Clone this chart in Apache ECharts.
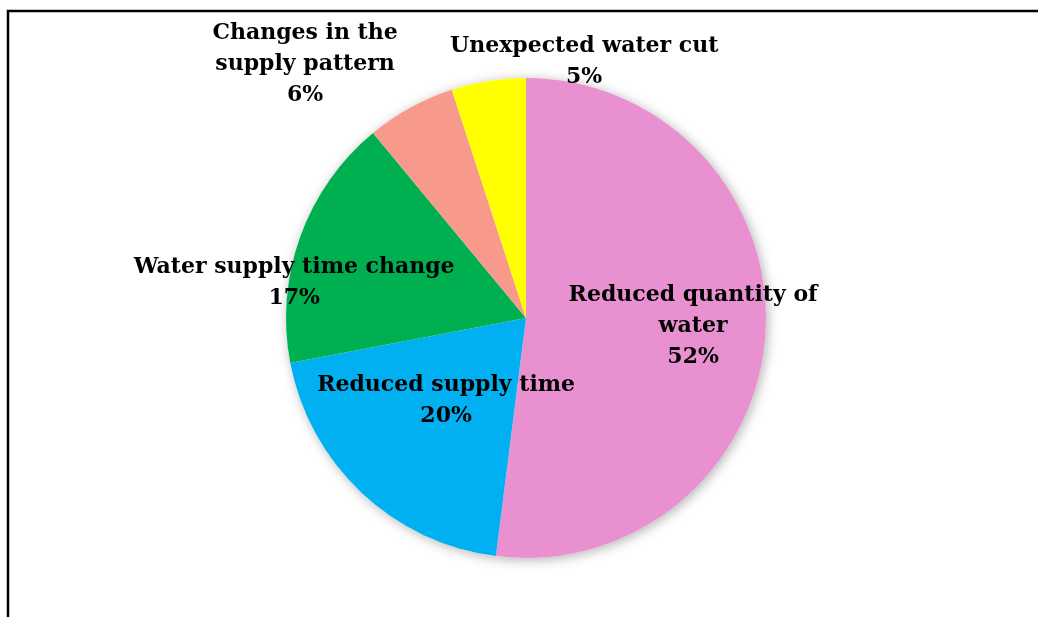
<!DOCTYPE html>
<html>
<head>
<meta charset="utf-8">
<script src="https://cdn.jsdelivr.net/npm/echarts@6/dist/echarts.min.js"></script>
<style>
  html, body { margin: 0; padding: 0; background: #fff; }
  #chart { width: 1038px; height: 617px; }
</style>
</head>
<body>
<div id="chart"></div>
<script>
// Reasons reported for water supply disruption (share of responses, %)
const categories = [
  'Reduced quantity of\nwater',
  'Reduced supply time',
  'Water supply time change',
  'Changes in the\nsupply pattern',
  'Unexpected water cut'
];
const shares = [52, 20, 17, 6, 5];
const sliceColors = ['#E991D0', '#00B0F0', '#00B050', '#F79A8B', '#FFFF00'];

// Label anchor for each slice: [angle clockwise from 12 o'clock (deg), distance / radius]
const labelAnchors = [[92.7, 0.697], [223.9, 0.48], [278.6, 0.977], [319, 1.403], [12.8, 1.094]];

const CENTER = [526, 318];
const RADIUS = 240;

const chart = echarts.init(document.getElementById('chart'), null, { renderer: 'canvas' });

chart.setOption({
  backgroundColor: '#ffffff',
  animation: false,
  graphic: [{
    type: 'rect',
    shape: { x: 8, y: 11, width: 1060, height: 640 },
    style: { fill: 'none', stroke: '#000', lineWidth: 2.5 },
    silent: true
  }],
  series: [
    {
      // soft drop shadow beneath the whole disc
      type: 'pie',
      center: CENTER,
      radius: RADIUS,
      silent: true,
      z: 1,
      label: { show: false },
      labelLine: { show: false },
      itemStyle: {
        color: '#ffffff',
        borderWidth: 0,
        shadowBlur: 12,
        shadowColor: 'rgba(0,0,0,0.30)',
        shadowOffsetX: 2,
        shadowOffsetY: 2
      },
      emphasis: { disabled: true },
      data: [{ name: '', value: 1 }]
    },
    {
      type: 'pie',
      center: CENTER,
      radius: RADIUS,
      startAngle: 90,
      clockwise: true,
      z: 2,
      avoidLabelOverlap: false,
      itemStyle: { borderWidth: 0 },
      label: {
        show: true,
        position: 'inside',
        formatter: '{b}\n{d}%',
        fontFamily: '"DejaVu Serif", "Liberation Serif", serif',
        fontWeight: 'bold',
        fontSize: 22,
        lineHeight: 31,
        color: '#000',
        align: 'center'
      },
      labelLine: { show: false },
      labelLayout: function (params) {
        const a = labelAnchors[params.dataIndex];
        const t = a[0] * Math.PI / 180;
        const d = a[1] * RADIUS;
        return {
          x: CENTER[0] + d * Math.sin(t),
          y: CENTER[1] - d * Math.cos(t),
          align: 'center',
          verticalAlign: 'middle'
        };
      },
      emphasis: { disabled: true },
      data: categories.map((name, i) => ({
        name: name,
        value: shares[i],
        itemStyle: { color: sliceColors[i] }
      }))
    }
  ]
});
</script>
</body>
</html>
